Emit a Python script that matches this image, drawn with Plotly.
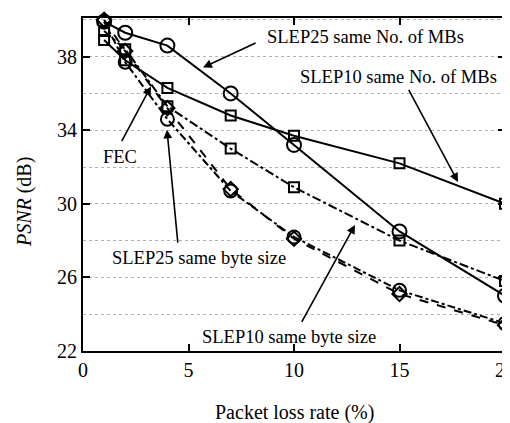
import plotly.graph_objects as go

# ---- data ----
loss_rate = [1, 2, 4, 7, 10, 15, 20]
slep25_same_mbs = [39.9, 39.3, 38.6, 36.0, 33.2, 28.5, 25.0]
slep10_same_mbs = [38.9, 37.8, 36.3, 34.8, 33.7, 32.2, 30.0]
slep10_same_bytes = [39.4, 38.4, 35.3, 33.0, 30.9, 28.0, 25.8]
slep25_same_bytes = [39.9, 37.7, 34.6, 30.7, 28.2, 25.3, 23.5]
fec = [40.0, 38.3, 35.2, 30.8, 28.1, 25.1, 23.4]

x_ticks = [0, 5, 10, 15, 20]
y_ticks = [22, 26, 30, 34, 38]

FONT = "Liberation Serif, Times New Roman, Times, serif"

fig = go.Figure()

def add(y, dash, symbol, size, name):
    fig.add_trace(go.Scatter(
        x=loss_rate, y=y, mode="lines+markers", name=name,
        line=dict(color="black", width=2, dash=dash),
        marker=dict(symbol=symbol, size=size, color="black",
                    line=dict(color="black", width=2)),
        cliponaxis=False, showlegend=False))

add(slep10_same_bytes, "dashdot", "square-open", 10, "SLEP10 same byte size")
add(fec, "dash", "diamond-open", 11, "FEC")
add(slep25_same_bytes, "8px,3px,3px,3px", "circle-open", 13, "SLEP25 same byte size")
add(slep10_same_mbs, "solid", "square-open", 10, "SLEP10 same No. of MBs")
add(slep25_same_mbs, "solid", "circle-open", 14, "SLEP25 same No. of MBs")

# ---- annotations: (text, text_x, text_y, xanchor, tail_x, tail_y, head_x, head_y)
labels = [
    ("SLEP25 same No. of MBs", 8.63, 39.05, "left", 8.25, 38.78, 5.69, 37.41),
    ("SLEP10 same No. of MBs", 10.19, 36.87, "left", 15.4, 36.27, 17.77, 31.19),
    ("FEC", 1.75, 32.56, "center", 1.80, 33.32, 3.22, 36.38),
    ("SLEP25 same byte size", 1.28, 27.05, "left", 4.5, 27.81, 3.98, 34.03),
    ("SLEP10 same byte size", 9.74, 22.74, "center", 10.33, 23.5, 12.89, 28.85),
]
for text, tx, ty, xa, ax, ay, hx, hy in labels:
    fig.add_annotation(x=tx, y=ty, text=text, showarrow=False, xanchor=xa,
                       yanchor="middle", font=dict(family=FONT, size=18.5, color="black"))
    fig.add_annotation(x=hx, y=hy, ax=ax, ay=ay, axref="x", ayref="y", text="",
                       showarrow=True, arrowhead=2, arrowsize=1.1, arrowwidth=1.6,
                       arrowcolor="black", standoff=0)

fig.add_annotation(x=-0.14, y=0.447, xref="paper", yref="paper",
                   text="<i>PSNR</i> (dB)", textangle=-90, showarrow=False,
                   xanchor="center", yanchor="middle",
                   font=dict(family=FONT, size=20, color="black"))
fig.add_annotation(x=0.5, y=-0.186, xref="paper", yref="paper",
                   text="Packet loss rate (%)", showarrow=False,
                   xanchor="center", yanchor="middle",
                   font=dict(family=FONT, size=20, color="black"))

axis_common = dict(showline=True, linecolor="black", linewidth=2, mirror="ticks",
                   ticks="inside", tickcolor="black", tickwidth=2, ticklen=7,
                   ticklabeloverflow="allow", automargin=False,
                   tickfont=dict(family=FONT, size=20, color="black"), zeroline=False)

fig.update_xaxes(range=[0, 20], tickvals=x_ticks, showgrid=False, **axis_common)
fig.update_yaxes(range=[22, 40.1], tickvals=y_ticks, showgrid=True,
                 gridcolor="#b0b0b0", gridwidth=1, griddash="dot",
                 minor=dict(dtick=2, tick0=22, showgrid=True, gridcolor="#b0b0b0",
                            gridwidth=1, griddash="dot", ticklen=0),
                 **axis_common)

# page body has an 8px default margin, so the figure is 8px smaller and margins shifted
fig.update_layout(width=502, height=415, margin=dict(l=75, r=5, t=10, b=72, autoexpand=False),
                  plot_bgcolor="white", paper_bgcolor="white",
                  font=dict(family=FONT, color="black"))

fig.write_html("out.html")
